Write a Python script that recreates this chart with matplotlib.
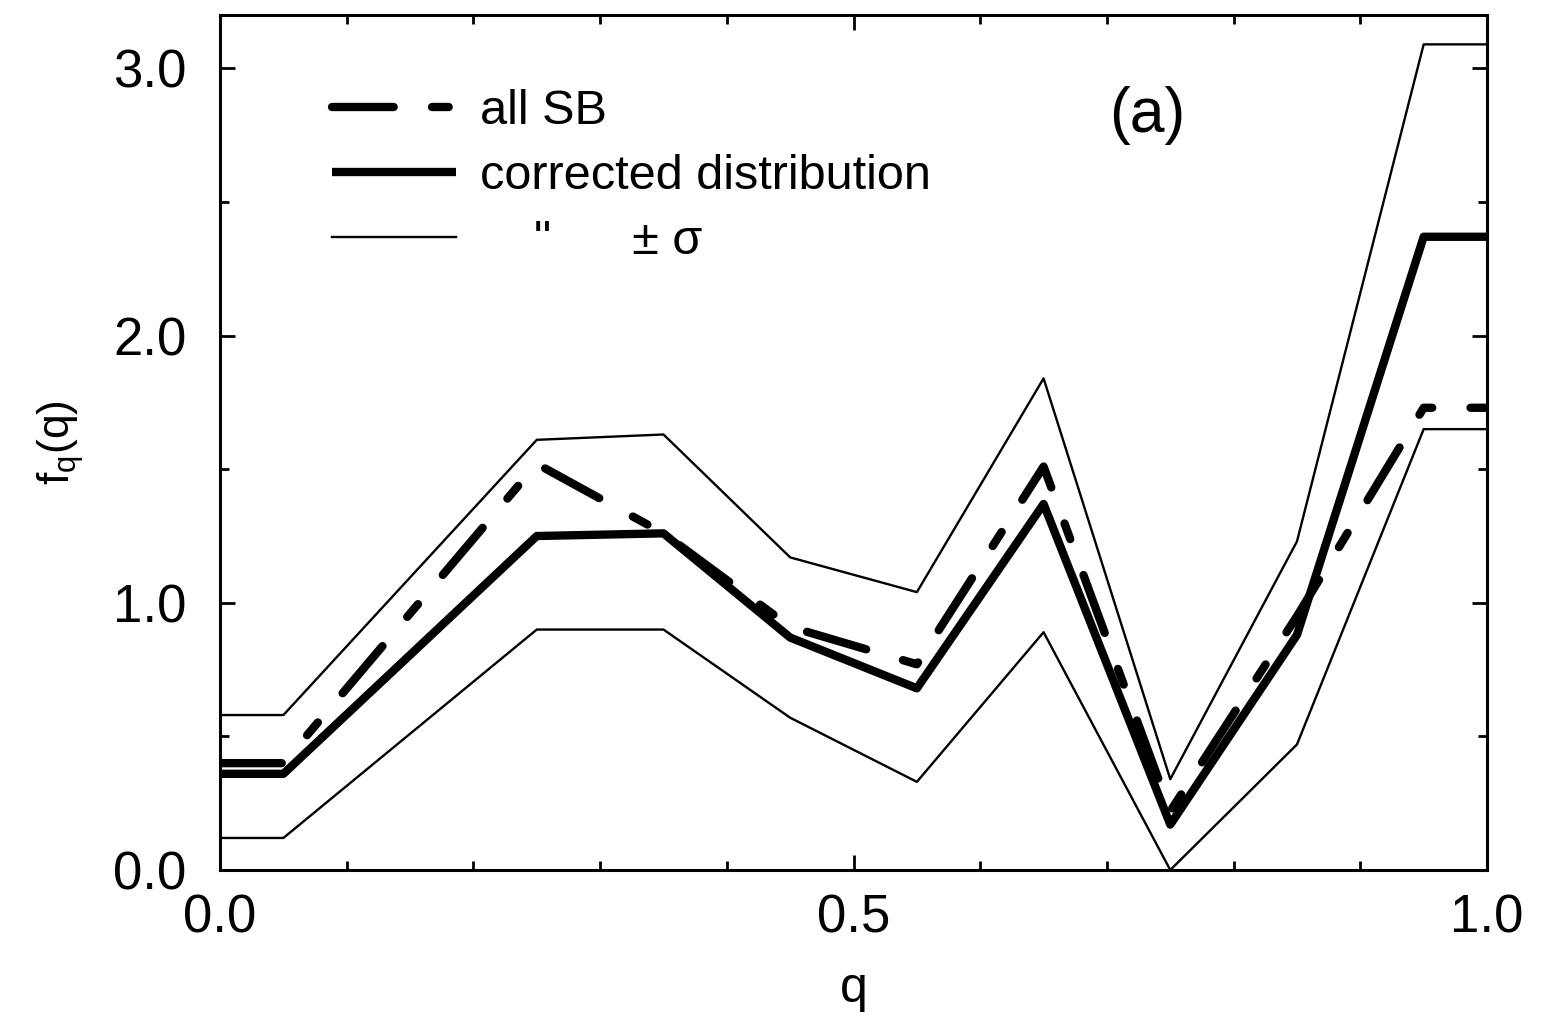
import matplotlib
matplotlib.use('Agg')
import matplotlib.pyplot as plt
from matplotlib.ticker import MultipleLocator, FormatStrFormatter

# values
q = [0.0, 0.05, 0.25, 0.35, 0.45, 0.55, 0.65, 0.75, 0.85, 0.95, 1.0]
all_sb = [0.40, 0.40, 1.52, 1.26, 0.91, 0.77, 1.51, 0.22, 0.95, 1.73, 1.73]
corrected = [0.36, 0.36, 1.25, 1.26, 0.87, 0.68, 1.37, 0.17, 0.88, 2.37, 2.37]
upper = [0.58, 0.58, 1.61, 1.63, 1.17, 1.04, 1.84, 0.34, 1.23, 3.09, 3.09]
lower = [0.12, 0.12, 0.90, 0.90, 0.57, 0.33, 0.89, 0.0, 0.47, 1.65, 1.65]

labels = ['all SB', 'corrected distribution', '    "      \u00b1 \u03c3']

plt.rcParams['font.family'] = ['Liberation Sans', 'DejaVu Sans']
plt.rcParams['mathtext.default'] = 'regular'

fig = plt.figure(figsize=(15.54, 10.19), dpi=100)
ax = fig.add_axes([0.1416, 0.1462, 0.8153, 0.8391])

ax.plot(q, upper, color='k', lw=1.7, label=labels[2])
ax.plot(q, lower, color='k', lw=1.7)
ax.plot(q, corrected, color='k', lw=6.0, solid_capstyle='butt', label=labels[1])
ax.plot(q, all_sb, color='k', lw=6.0, dashes=(7.4, 4.6, 2.0, 4.6),
        dash_capstyle='round', label=labels[0])

ax.set_xlim(0, 1)
ax.set_ylim(0, 3.2)
ax.xaxis.set_major_locator(MultipleLocator(0.5))
ax.xaxis.set_minor_locator(MultipleLocator(0.1))
ax.yaxis.set_major_locator(MultipleLocator(1.0))
ax.yaxis.set_minor_locator(MultipleLocator(0.5))
ax.xaxis.set_major_formatter(FormatStrFormatter('%.1f'))
ax.yaxis.set_major_formatter(FormatStrFormatter('%.1f'))

ax.tick_params(which='both', direction='in', top=True, right=True, width=2)
ax.tick_params(which='major', length=11, labelsize=38)
ax.tick_params(which='minor', length=6.5)
ax.tick_params(axis='x', which='major', pad=17)
ax.tick_params(axis='y', which='major', pad=24)
for s in ax.spines.values():
    s.set_linewidth(2.2)

ax.set_xlabel('q', fontsize=36, labelpad=16)
ax.set_ylabel('f$_q$(q)', fontsize=32, labelpad=20)

ax.text(0.702, 0.883, '(a)', transform=ax.transAxes, fontsize=45, ha='left', va='center')

h, l = ax.get_legend_handles_labels()
order = [2, 1, 0]
ax.legend([h[i] for i in order], [l[i] for i in order], loc='upper left',
          bbox_to_anchor=(0.054, 0.965), frameon=False, fontsize=35,
          handlelength=2.55, handletextpad=0.5, labelspacing=0.42)

fig.savefig('out.png', dpi=100)
